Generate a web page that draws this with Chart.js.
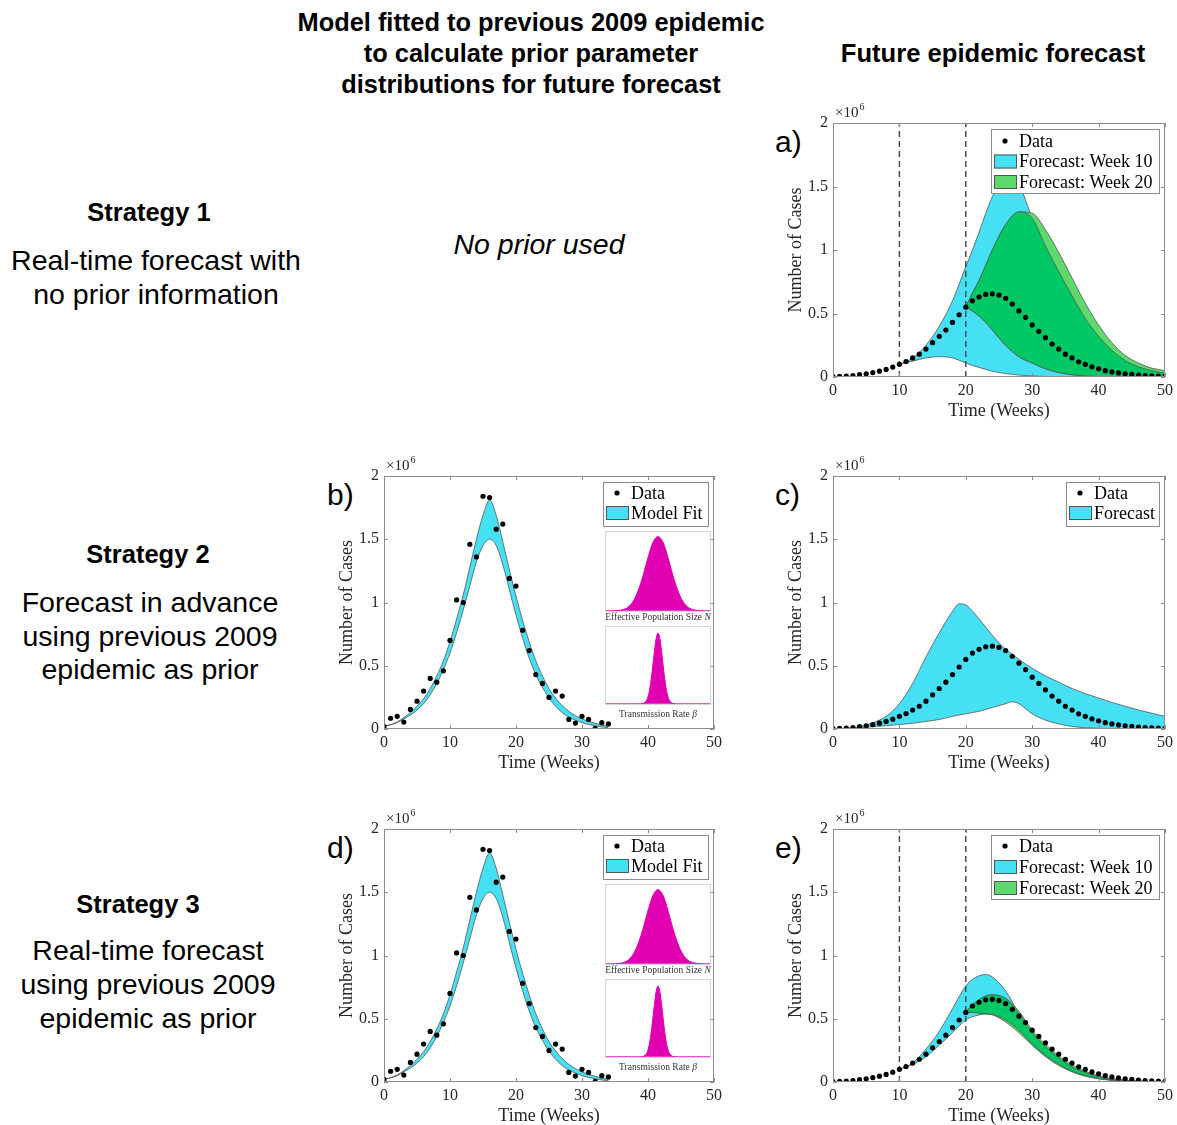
<!DOCTYPE html>
<html>
<head>
<meta charset="utf-8">
<script src="https://cdn.jsdelivr.net/npm/chart.js@4/dist/chart.umd.min.js"></script>
<style>
body{margin:0;background:#fff;width:1177px;height:1125px;position:relative;overflow:hidden;font-family:"Liberation Sans",Arial,sans-serif;color:#000}
.t{position:absolute;white-space:nowrap;text-align:center;transform:translateX(-50%)}
.lab{position:absolute;font-size:30px;line-height:34px}
.cap{position:absolute;white-space:nowrap;font-family:"Liberation Serif",serif;font-size:9.5px;color:#333;transform:translateX(-50%)}
canvas{position:absolute}
</style>
</head>
<body>

<div class="t" style="left:531px;top:7px;font-size:25.4px;line-height:31px;font-weight:bold">Model fitted to previous 2009 epidemic<br>to calculate prior parameter<br>distributions for future forecast</div>
<div class="t" style="left:993px;top:38px;font-size:25.6px;line-height:31px;font-weight:bold">Future epidemic forecast</div>

<div class="t" style="left:149px;top:197px;font-size:25.5px;line-height:30px;font-weight:bold">Strategy 1</div>
<div class="t" style="left:156px;top:243px;font-size:28.5px;line-height:34px">Real-time forecast with<br>no prior information</div>
<div class="t" style="left:539px;top:227px;font-size:28.5px;line-height:34px;font-style:italic">No prior used</div>

<div class="t" style="left:148px;top:539px;font-size:25.5px;line-height:30px;font-weight:bold">Strategy 2</div>
<div class="t" style="left:150px;top:586px;font-size:28.5px;line-height:33.5px">Forecast in advance<br>using previous 2009<br>epidemic as prior</div>

<div class="t" style="left:138px;top:889px;font-size:25.5px;line-height:30px;font-weight:bold">Strategy 3</div>
<div class="t" style="left:148px;top:934px;font-size:28.5px;line-height:33.8px">Real-time forecast<br>using previous 2009<br>epidemic as prior</div>

<div class="lab" style="left:775px;top:125px">a)</div>
<div class="lab" style="left:327px;top:478px">b)</div>
<div class="lab" style="left:775px;top:478px">c)</div>
<div class="lab" style="left:327px;top:831px">d)</div>
<div class="lab" style="left:775px;top:831px">e)</div>

<script>
// all case counts in millions (axis label shows x10^6)

// 2019 epidemic (data being forecast), weekly
var weeks = [0,1,2,3,4,5,6,7,8,9,10,11,12,13,14,15,16,17,18,19,20,21,22,23,24,25,26,27,28,29,30,31,32,33,34,35,36,37,38,39,40,41,42,43,44,45,46,47,48,49,50];
var cases2019 = [0.003,0.005,0.008,0.012,0.018,0.025,0.035,0.046,0.06,0.078,0.1,0.122,0.15,0.18,0.22,0.27,0.32,0.37,0.43,0.49,0.55,0.6,0.63,0.65,0.655,0.645,0.62,0.575,0.52,0.47,0.41,0.36,0.31,0.26,0.22,0.18,0.15,0.12,0.1,0.08,0.065,0.05,0.04,0.032,0.025,0.02,0.015,0.012,0.009,0.007,0.005];

// previous 2009 epidemic and model fit
var weeks2009 = [0,1,2,3,4,5,6,7,8,9,10,11,12,13,14,15,16,17,18,19,20,21,22,23,24,25,26,27,28,29,30,31,32,33,34];
var cases2009 = [0.02,0.085,0.1,0.055,0.155,0.22,0.3,0.4,0.37,0.46,0.7,1.02,1.0,1.46,1.36,1.84,1.83,1.58,1.62,1.19,1.13,0.78,0.62,0.43,0.36,0.25,0.3,0.26,0.076,0.047,0.1,0.076,0.005,0.05,0.04];
var fitUpper2009 = [0.02,0.035,0.055,0.09,0.13,0.18,0.24,0.32,0.42,0.54,0.69,0.87,1.06,1.28,1.5,1.69,1.81,1.69,1.48,1.26,1.05,0.86,0.69,0.54,0.42,0.32,0.245,0.185,0.14,0.105,0.08,0.06,0.045,0.032,0.022];
var fitLower2009 = [0.02,0.033,0.05,0.08,0.11,0.15,0.2,0.27,0.36,0.47,0.6,0.76,0.94,1.13,1.32,1.45,1.5,1.45,1.3,1.1,0.9,0.72,0.56,0.43,0.33,0.245,0.18,0.13,0.095,0.07,0.05,0.035,0.025,0.016,0.01];

// forecast bands
var forecastStarts = [10, 20];
var weeksFrom10 = [10,12,14,16,18,20,21,22,23,24,26,28,30,32,34,36,38,40,42,44,46,48,50];
var weeksFrom20 = [20,21,22,23,24,26,28,30,32,34,36,38,40,42,44,46,48,50];

// strategy 1: no prior
var s1Week10Upper = [0.1,0.15,0.25,0.4,0.6,0.87,1.0,1.14,1.29,1.42,1.62,1.52,1.25,1.03,0.83,0.64,0.46,0.32,0.21,0.13,0.08,0.05,0.03];
var s1Week10Lower = [0.1,0.125,0.15,0.16,0.15,0.11,0.09,0.075,0.06,0.045,0.027,0.015,0.008,0.004,0.002,0.001,0,0,0,0,0,0,0];
var s1Week20Upper = [0.55,0.66,0.76,0.88,1.0,1.2,1.3,1.29,1.16,0.98,0.78,0.58,0.41,0.27,0.17,0.11,0.07,0.05];
var s1Week20Lower = [0.55,0.52,0.48,0.43,0.37,0.25,0.16,0.11,0.065,0.035,0.018,0.008,0.003,0.001,0,0,0,0];

// strategy 2: forecast in advance
var s2Weeks = [0,2,4,6,8,10,12,14,16,18,19,20,22,24,26,27,28,30,32,34,36,38,40,42,44,46,48,50];
var s2Upper = [0,0.006,0.018,0.05,0.1,0.2,0.36,0.57,0.76,0.93,0.99,0.98,0.87,0.74,0.63,0.59,0.55,0.48,0.42,0.37,0.32,0.28,0.245,0.21,0.18,0.15,0.125,0.1];
var s2Lower = [0,0.004,0.01,0.018,0.026,0.035,0.045,0.06,0.075,0.1,0.11,0.12,0.14,0.17,0.2,0.215,0.2,0.12,0.07,0.04,0.02,0.01,0.005,0.003,0.002,0.001,0,0];

// strategy 3: real-time with prior
var s3Week10Upper = [0.1,0.15,0.26,0.4,0.58,0.76,0.81,0.84,0.85,0.83,0.72,0.54,0.39,0.28,0.19,0.12,0.075,0.042,0.023,0.012,0.006,0.003,0.002];
var s3Week10Lower = [0.1,0.14,0.2,0.29,0.39,0.49,0.515,0.53,0.537,0.535,0.49,0.41,0.3,0.21,0.14,0.085,0.05,0.028,0.015,0.008,0.004,0.002,0.001];
var s3Week20Upper = [0.55,0.61,0.65,0.68,0.69,0.66,0.56,0.41,0.3,0.205,0.135,0.085,0.048,0.026,0.014,0.007,0.003,0.002];
var s3Week20Lower = [0.55,0.55,0.545,0.54,0.53,0.475,0.39,0.29,0.2,0.13,0.08,0.045,0.025,0.013,0.007,0.003,0.001,0];

// prior distributions (normalised density, across the inset width)
var priorNx = [0,0.05,0.1,0.15,0.2,0.25,0.3,0.35,0.4,0.45,0.5,0.55,0.6,0.65,0.7,0.75,0.8,0.85,0.9,0.95,1];
var priorN = [0,0,0.002,0.009,0.03,0.088,0.21,0.4,0.64,0.85,0.93,0.85,0.64,0.4,0.21,0.088,0.03,0.009,0.002,0,0];
var priorBetaX = [0,0.3,0.34,0.36,0.38,0.4,0.42,0.44,0.46,0.48,0.5,0.52,0.54,0.56,0.58,0.6,0.62,0.64,0.66,0.7,1];
var priorBeta = [0,0,0.001,0.006,0.022,0.069,0.175,0.36,0.6,0.82,0.91,0.82,0.6,0.36,0.175,0.069,0.022,0.006,0.001,0,0];

var SERIF = '"Liberation Serif","Times New Roman",serif';
var TXT = '#262626';
var EDGE = '#555';
var CYAN = '#45E0F3', LGREEN = '#5ED96B', DGREEN = '#00C864', MAGENTA = '#E000B2';
var FRAME = {l: 63, t: 25, r: 9, b: 45};

function pts(xs, ys) {
    return xs.map(function(x, i){ return {x: x, y: ys[i]}; });
}

function addBand(list, xs, upper, lower, color, order) {
    var iu = list.length;
    list.push({data: pts(xs, upper), borderColor: EDGE, borderWidth: 0.8, backgroundColor: color,
               fill: iu + 1, pointRadius: 0, order: order});
    list.push({data: pts(xs, lower), borderColor: EDGE, borderWidth: 0.8, backgroundColor: color,
               fill: false, pointRadius: 0, order: order - 0.5});
}

function addDots(list) {
    list.push({data: pts(weeks, cases2019), showLine: false, pointRadius: 2.6, pointBackgroundColor: '#000',
               pointBorderWidth: 0, order: 0});
}

function addStartLines(list) {
    forecastStarts.forEach(function(w){
        list.push({data: [{x: w, y: 0}, {x: w, y: 2}], borderColor: '#444', borderWidth: 1.4,
                   borderDash: [6, 4], pointRadius: 0, fill: false, cubicInterpolationMode: 'default', tension: 0, order: 1});
    });
}

// overlap of the week 10 and week 20 forecasts (drawn dark green)
function overlap(u10, l10, u20, l20) {
    var off = weeksFrom10.indexOf(20);
    return {
        upper: u20.map(function(v, i){ return Math.min(v, u10[i + off]); }),
        lower: l20.map(function(v, i){ return Math.max(v, l10[i + off]); })
    };
}

function framePlugin(legend) {
    return {
        id: 'frame',
        afterDatasetsDraw: function(chart) {
            var ctx = chart.ctx, a = chart.chartArea, sx = chart.scales.x, sy = chart.scales.y;
            ctx.save();
            ctx.strokeStyle = '#8c8c8c';
            ctx.lineWidth = 1;
            ctx.strokeRect(a.left + 0.5, a.top + 0.5, a.right - a.left - 1, a.bottom - a.top - 1);
            ctx.beginPath();
            sx.ticks.forEach(function(t){
                var px = Math.round(sx.getPixelForValue(t.value)) + 0.5;
                ctx.moveTo(px, a.bottom); ctx.lineTo(px, a.bottom - 4);
                ctx.moveTo(px, a.top); ctx.lineTo(px, a.top + 4);
            });
            sy.ticks.forEach(function(t){
                var py = Math.round(sy.getPixelForValue(t.value)) + 0.5;
                ctx.moveTo(a.left, py); ctx.lineTo(a.left + 4, py);
                ctx.moveTo(a.right, py); ctx.lineTo(a.right - 4, py);
            });
            ctx.stroke();

            // exponent label
            ctx.fillStyle = TXT;
            ctx.textBaseline = 'alphabetic';
            ctx.textAlign = 'left';
            ctx.font = '15px ' + SERIF;
            ctx.fillText('\u00d710', a.left + 2, a.top - 6);
            var w = ctx.measureText('\u00d710').width;
            ctx.font = '10px ' + SERIF;
            ctx.fillText('6', a.left + 3 + w, a.top - 13);

            if (legend) {
                var bx = a.right - 6 - legend.w, by = a.top + 6;
                ctx.fillStyle = '#fff';
                ctx.fillRect(bx, by, legend.w, legend.h);
                ctx.strokeStyle = '#8c8c8c';
                ctx.strokeRect(bx + 0.5, by + 0.5, legend.w, legend.h);
                ctx.font = '18px ' + SERIF;
                ctx.textBaseline = 'middle';
                legend.rows.forEach(function(r, i){
                    var cy = by + legend.first + i * legend.step;
                    if (r.color) {
                        ctx.fillStyle = r.color;
                        ctx.fillRect(bx + 3, cy - 7, 23, 14);
                        ctx.strokeStyle = EDGE;
                        ctx.strokeRect(bx + 3.5, cy - 6.5, 22, 13);
                    } else {
                        ctx.fillStyle = '#000';
                        ctx.beginPath();
                        ctx.arc(bx + 14, cy, 2.6, 0, Math.PI * 2);
                        ctx.fill();
                    }
                    ctx.fillStyle = '#000';
                    ctx.fillText(r.label, bx + 28, cy + 1);
                });
            }
            ctx.restore();
        }
    };
}

function makePanel(rect, datasets, legend) {
    var c = document.createElement('canvas');
    var w = rect[2] - rect[0] + FRAME.l + FRAME.r, h = rect[3] - rect[1] + FRAME.t + FRAME.b;
    c.width = w; c.height = h;
    c.style.left = (rect[0] - FRAME.l) + 'px';
    c.style.top = (rect[1] - FRAME.t) + 'px';
    c.style.width = w + 'px';
    c.style.height = h + 'px';
    document.body.appendChild(c);
    new Chart(c, {
        type: 'line',
        data: {datasets: datasets},
        options: {
            responsive: false, animation: false, devicePixelRatio: 1,
            layout: {padding: {left: 0, top: FRAME.t, right: FRAME.r, bottom: 0}},
            plugins: {legend: {display: false}, tooltip: {enabled: false}},
            elements: {line: {cubicInterpolationMode: 'monotone'}},
            scales: {
                x: {
                    type: 'linear', min: 0, max: 50,
                    afterFit: function(s){ s.height = FRAME.b; },
                    grid: {display: false, drawTicks: false}, border: {display: false},
                    ticks: {stepSize: 10, padding: 4, maxRotation: 0, color: TXT, font: {family: SERIF, size: 16}},
                    title: {display: true, text: 'Time (Weeks)', color: TXT, font: {family: SERIF, size: 18}, padding: {top: 0, bottom: 0}}
                },
                y: {
                    min: 0, max: 2,
                    afterFit: function(s){ s.width = FRAME.l; },
                    grid: {display: false, drawTicks: false}, border: {display: false},
                    ticks: {stepSize: 0.5, padding: 5, color: TXT, font: {family: SERIF, size: 16},
                            callback: function(v){ return String(+v.toFixed(1)); }},
                    title: {display: true, text: 'Number of Cases', color: TXT, font: {family: SERIF, size: 18}, padding: {top: 15, bottom: 0}}
                }
            }
        },
        plugins: [framePlugin(legend)]
    });
}

function makePrior(left, top, w, h, xs, ys) {
    var c = document.createElement('canvas');
    c.width = w; c.height = h;
    c.style.left = left + 'px'; c.style.top = top + 'px';
    c.style.width = w + 'px'; c.style.height = h + 'px';
    c.style.zIndex = 2;
    document.body.appendChild(c);
    new Chart(c, {
        type: 'line',
        data: {datasets: [{data: pts(xs, ys), borderColor: MAGENTA, borderWidth: 1, backgroundColor: MAGENTA,
                           fill: 'origin', pointRadius: 0, cubicInterpolationMode: 'monotone'}]},
        options: {
            responsive: false, animation: false, devicePixelRatio: 1,
            layout: {padding: 0},
            plugins: {legend: {display: false}, tooltip: {enabled: false}},
            scales: {
                x: {type: 'linear', min: 0, max: 1, display: false},
                y: {min: -0.015, max: 1, display: false}
            }
        },
        plugins: [{
            id: 'priorBox',
            beforeDraw: function(chart){
                chart.ctx.fillStyle = '#fff';
                chart.ctx.fillRect(0, 0, chart.width, chart.height);
            },
            afterDraw: function(chart){
                chart.ctx.strokeStyle = '#d9d3d9';
                chart.ctx.lineWidth = 1;
                chart.ctx.strokeRect(0.5, 0.5, chart.width - 1, chart.height - 1);
            }
        }]
    });
}

function fitPanel(rect, dy) {
    var ds = [];
    addBand(ds, weeks2009, fitUpper2009, fitLower2009, CYAN, 10);
    ds.push({data: pts(weeks2009, cases2009), showLine: false, pointRadius: 2.6, pointBackgroundColor: '#000',
             pointBorderWidth: 0, order: 0});
    makePanel(rect, ds, {w: 105, h: 44, first: 11, step: 20, rows: [{label: 'Data'}, {label: 'Model Fit', color: CYAN}]});
    makePrior(605, 531 + dy, 106, 81, priorNx, priorN);
    makePrior(605, 626 + dy, 106, 79, priorBetaX, priorBeta);
}

function forecastPanel(rect, u10, l10, u20, l20, legendFirst, legendStep) {
    var ds = [];
    var ov = overlap(u10, l10, u20, l20);
    addBand(ds, weeksFrom10, u10, l10, CYAN, 10);
    addBand(ds, weeksFrom20, u20, l20, LGREEN, 8);
    addBand(ds, weeksFrom20, ov.upper, ov.lower, DGREEN, 6);
    addStartLines(ds);
    addDots(ds);
    makePanel(rect, ds, {w: 168, h: 64, first: legendFirst, step: legendStep, rows: [
        {label: 'Data'}, {label: 'Forecast: Week 10', color: CYAN}, {label: 'Forecast: Week 20', color: LGREEN}]});
}

// a) strategy 1
forecastPanel([833, 123, 1168, 377], s1Week10Upper, s1Week10Lower, s1Week20Upper, s1Week20Lower, 12, 20.5);

// b) and d) fit to 2009
fitPanel([384, 476, 717, 729], 0);
fitPanel([384, 829, 717, 1082], 353);

// c) strategy 2
(function(){
    var ds = [];
    addBand(ds, s2Weeks, s2Upper, s2Lower, CYAN, 10);
    addDots(ds);
    makePanel([833, 476, 1168, 729], ds, {w: 93, h: 44, first: 11, step: 20, rows: [{label: 'Data'}, {label: 'Forecast', color: CYAN}]});
})();

// e) strategy 3
forecastPanel([833, 829, 1168, 1082], s3Week10Upper, s3Week10Lower, s3Week20Upper, s3Week20Lower, 11, 21);
</script>

<div class="cap" style="left:658px;top:612px">Effective Population Size <i>N</i></div>
<div class="cap" style="left:658px;top:709px">Transmission Rate <i>&beta;</i></div>
<div class="cap" style="left:658px;top:965px">Effective Population Size <i>N</i></div>
<div class="cap" style="left:658px;top:1062px">Transmission Rate <i>&beta;</i></div>
</body>
</html>
